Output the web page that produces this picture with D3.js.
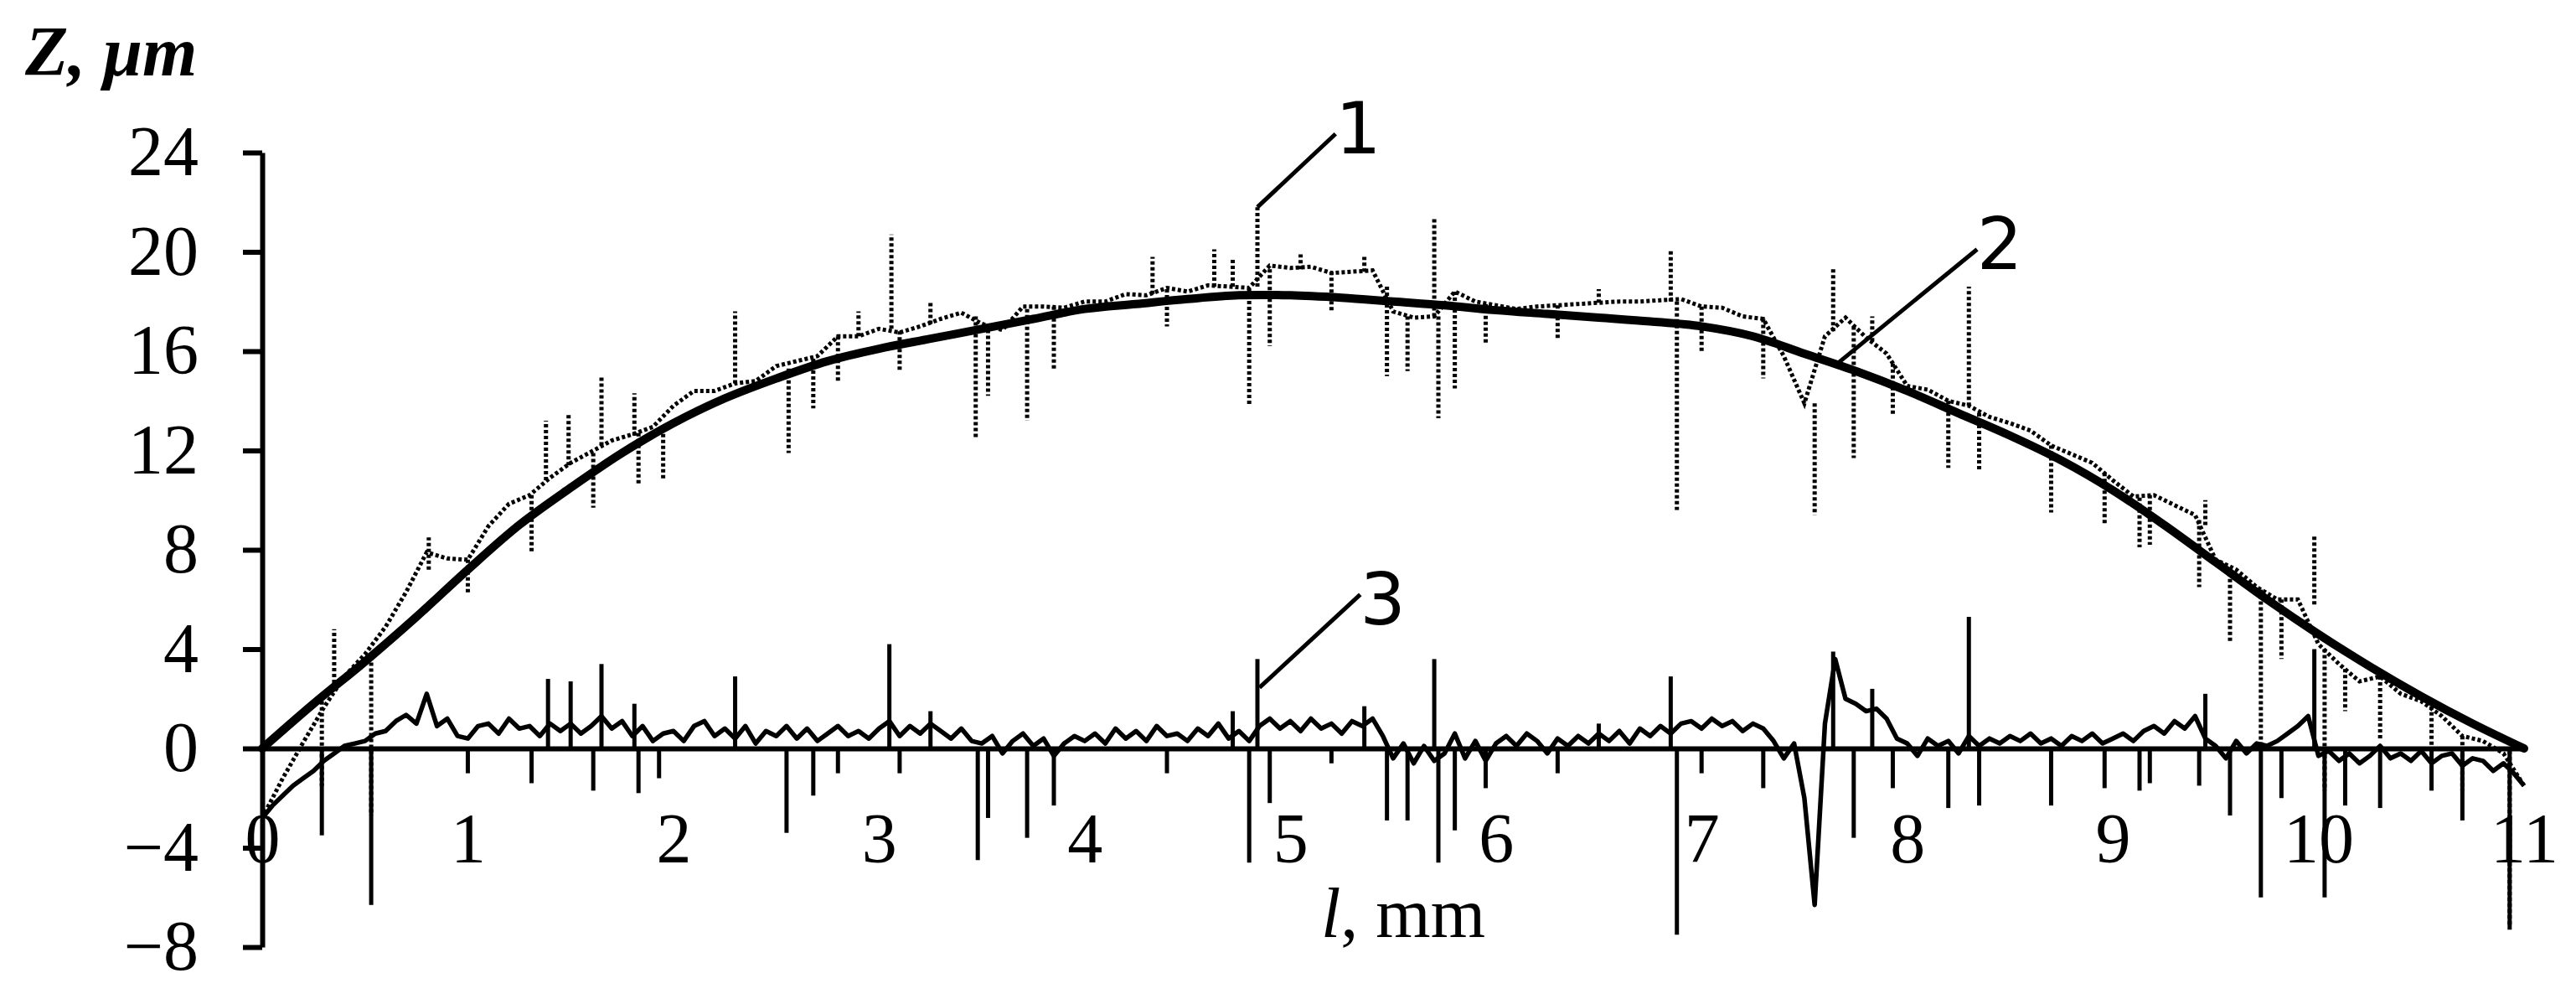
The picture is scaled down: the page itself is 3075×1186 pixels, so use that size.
<!DOCTYPE html>
<html><head><meta charset="utf-8">
<script src="https://cdn.jsdelivr.net/npm/d3@7"></script>
<style>html,body{margin:0;padding:0;background:#fff;} svg{display:block;}</style>
</head><body>
<svg id="chart" width="3075" height="1186"></svg>
<script>
// ---------- DATA ----------
const xTicks = [0,1,2,3,4,5,6,7,8,9,10,11];
const yTicks = [-8,-4,0,4,8,12,16,20,24];

// curve 2: smoothed mean line, sampled every 0.25 mm
const meanStep = 0.25;
const meanZ = [0,1.8,3.5,5.3,7.2,9.0,10.5,11.9,13.1,14.1,14.9,15.6,16.1,16.5,16.9,17.3,17.7,17.9,18.1,18.25,
  18.25,18.15,18.0,17.85,17.65,17.5,17.35,17.2,17.0,16.6,15.9,15.2,14.4,13.5,12.6,11.6,10.4,9.0,7.5,6.0,
  4.6,3.3,2.1,1.0,0];

// curve 1: measured profile (dotted), sampled every 0.1 mm
const profileStep = 0.1;
const profileZ = [
  -2.8,-1.2,0.25,1.65,2.9,3.8,4.9,6.3,7.9,7.65,
  7.6,8.95,9.85,10.2,10.9,11.5,11.95,12.4,12.65,12.95,
  13.8,14.4,14.4,14.7,14.8,15.4,15.6,15.8,16.6,16.6,
  16.9,16.75,17.0,17.3,17.55,17.1,16.85,17.8,17.8,17.75,
  18.0,18.0,18.3,18.25,18.55,18.4,18.65,18.6,18.55,19.45,
  19.35,19.4,19.15,19.2,19.25,17.6,17.35,17.4,18.4,18.0,
  17.85,17.7,17.8,17.85,17.9,17.95,18.0,18.0,18.05,18.1,
  17.8,17.75,17.4,17.3,15.8,13.9,16.6,17.35,16.55,15.9,
  14.6,14.45,14.0,13.8,13.35,13.1,12.8,12.2,11.85,11.5,
  10.8,10.15,10.2,9.8,9.4,7.6,7.2,6.5,6.0,6.0,
  4.2,3.4,2.7,2.9,2.2,1.9,1.3,0.5,0.3,-0.2,
  -1.5];
// narrow spikes of curve 1: [l, from Z, to Z]
const profileSpikes = [[0.29,1.9,-1.5],[0.35,2.4,4.8],[0.53,3.7,-2.7],[0.81,7.2,8.5],[1.0,7.6,6.2],[1.31,10.2,7.9],
  [1.38,10.8,13.2],[1.49,11.4,13.5],[1.61,11.9,9.7],[1.65,12.2,15.0],[1.81,12.6,14.3],[1.83,12.7,10.6],[1.95,12.9,10.8],
  [2.3,14.7,17.6],[2.56,15.3,11.9],[2.68,15.7,13.7],[2.8,16.6,14.8],[2.9,16.6,17.6],[3.06,16.9,20.7],[3.1,16.8,15.2],
  [3.25,17.1,18.0],[3.47,17.4,12.5],[3.53,17.1,14.2],[3.72,17.7,13.2],[3.85,17.8,15.2],[4.33,18.3,19.8],[4.4,18.5,17.0],
  [4.63,18.6,20.1],[4.72,18.6,19.7],[4.8,18.5,13.8],[4.84,18.6,21.8],[4.9,19.3,16.2],[5.05,19.3,19.9],[5.2,19.2,17.6],
  [5.36,19.2,19.8],[5.47,18.6,15.0],[5.57,17.4,15.2],[5.7,17.4,21.4],[5.72,17.4,13.3],[5.8,18.4,14.5],[5.95,17.9,16.3],
  [6.3,17.85,16.5],[6.5,17.95,18.5],[6.85,18.0,20.1],[6.88,18.0,9.6],[7.0,17.8,16.0],[7.3,17.3,14.9],[7.55,13.9,9.4],
  [7.64,16.8,19.4],[7.74,17.0,11.7],[7.83,16.4,17.4],[7.93,15.5,13.4],[8.2,14.0,11.3],[8.3,13.8,18.6],[8.35,13.5,11.2],
  [8.7,12.2,9.5],[8.96,11.1,9.0],[9.13,10.1,8.1],[9.18,10.2,8.2],[9.42,9.2,6.5],[9.45,9.0,10.0],[9.57,7.3,4.3],
  [9.72,6.4,0.2],[9.82,6.0,3.6],[9.98,5.8,8.6],[10.03,4.0,-1.7],[10.13,3.2,1.5],[10.3,2.9,0.4],[10.55,1.7,0.1],
  [10.7,0.5,-1.7],[10.93,-0.1,-7.1]];

// curve 3: residual (profile minus mean), sampled every 0.05 mm
const residualStep = 0.05;
const residualZ = [
  -2.8,-2.3,-1.9,-1.5,-1.2,-0.9,-0.5,-0.2,0.1,0.2,0.3,0.6,0.7,1.1,1.35,1.0,2.2,0.9,1.2,0.5,
  0.4,0.9,1.0,0.6,1.2,0.8,0.9,0.5,1.0,0.7,1.0,0.6,0.9,1.3,0.8,1.1,0.5,0.9,0.3,0.6,
  0.7,0.3,0.9,1.1,0.5,0.8,0.4,0.9,0.2,0.7,0.5,0.9,0.4,0.8,0.3,0.6,0.9,0.5,0.7,0.4,
  0.8,1.1,0.5,0.9,0.6,1.0,0.7,0.4,0.8,0.3,0.2,0.5,-0.2,0.3,0.6,0.1,0.4,-0.3,0.2,0.5,
  0.3,0.6,0.2,0.8,0.4,0.7,0.3,0.9,0.5,0.6,0.3,0.8,0.5,1.0,0.4,0.7,0.3,0.9,1.2,0.8,
  1.1,0.7,1.2,0.8,1.0,0.6,1.1,0.9,1.2,0.5,-0.4,0.2,-0.6,0.1,-0.5,-0.2,0.6,-0.4,0.3,-0.5,
  0.2,0.5,0.1,0.6,0.3,-0.2,0.4,0.1,0.5,0.2,0.6,0.3,0.7,0.2,0.8,0.5,0.9,0.6,1.0,1.1,
  0.8,1.2,0.9,1.1,0.7,1.0,0.8,0.3,-0.4,0.2,-2.0,-6.3,1.0,3.6,2.0,1.8,1.5,1.6,1.2,0.4,
  0.2,-0.3,0.4,0.1,0.3,-0.2,0.5,0.1,0.4,0.2,0.5,0.3,0.6,0.2,0.4,0.1,0.5,0.3,0.6,0.2,
  0.4,0.6,0.3,0.7,0.9,0.6,1.1,0.8,1.3,0.4,0.1,-0.4,0.3,-0.2,0.2,0.1,0.3,0.6,0.9,1.3,
  -0.3,-0.1,-0.5,-0.2,-0.6,-0.3,0.1,-0.4,-0.2,-0.5,-0.1,-0.6,-0.3,-0.2,-0.7,-0.4,-0.5,-0.9,-0.6,-1.0,
  -1.5];
// narrow spikes of curve 3: [l, peak Z]
const residualSpikes = [[0.29,-3.5],[0.53,-6.3],[1.0,-1.0],[1.31,-1.4],[1.39,2.8],[1.5,2.7],[1.61,-1.7],[1.65,3.4],
  [1.81,1.8],[1.83,-1.8],[1.93,-1.2],[2.3,2.9],[2.55,-3.4],[2.68,-1.9],[2.8,-1.0],[3.05,4.2],[3.1,-1.0],[3.25,1.5],
  [3.48,-4.5],[3.53,-2.8],[3.72,-3.6],[3.85,-2.3],[4.4,-1.0],[4.72,1.5],[4.8,-4.6],[4.84,3.6],[4.9,-2.2],[5.2,-0.6],
  [5.36,1.7],[5.47,-2.9],[5.57,-2.9],[5.70,3.6],[5.72,-4.6],[5.80,-3.3],[5.95,-1.6],[6.3,-1.0],[6.5,1.0],[6.85,2.9],
  [6.88,-7.5],[7.0,-1.0],[7.3,-1.6],[7.64,3.9],[7.74,-3.6],[7.83,2.4],[7.93,-1.6],[8.2,-2.4],[8.3,5.3],[8.35,-2.3],
  [8.7,-2.3],[8.96,-1.6],[9.13,-1.7],[9.18,-1.4],[9.42,-1.5],[9.45,2.2],[9.57,-2.7],[9.72,-6.0],[9.82,-2.0],[9.98,4.0],
  [10.03,-6.0],[10.13,-2.3],[10.3,-2.4],[10.55,-1.7],[10.7,-2.9],[10.93,-7.3]];

// curve numbers with leader lines (data coordinates)
const labelText = ["1","2","3"];
const labelAt   = [[5.33,25.0],[8.45,20.35],[5.45,6.05]];
const leaderFrom = [[4.84,21.8],[7.66,15.5],[4.85,2.45]];
const leaderTo   = [[5.22,24.75],[8.34,20.1],[5.34,6.2]];

// ---------- DRAWING ----------
const svg = d3.select("#chart");
svg.append("rect").attr("width",3075).attr("height",1186).attr("fill","#fff");

const x = d3.scaleLinear().domain([0,11]).range([313,3013]);
const y = d3.scaleLinear().domain([-8,24]).range([1130,182]);
const serif = "'Liberation Serif','Times New Roman',serif";

// axes
const yAxis = d3.axisLeft(y).tickValues(yTicks).tickSize(23).tickSizeOuter(0).tickPadding(53)
  .tickFormat(d => d < 0 ? "\u2212" + Math.abs(d) : String(d));
const gy = svg.append("g").attr("transform", `translate(${x(0)},0)`).call(yAxis);
gy.select(".domain").attr("stroke","#000").attr("stroke-width",6);
gy.selectAll(".tick line").attr("stroke","#000").attr("stroke-width",6);
gy.selectAll(".tick text").attr("font-family",serif).attr("font-size",84).attr("fill","#000");

const xAxis = d3.axisBottom(x).tickValues(xTicks).tickSize(0).tickSizeOuter(0).tickPadding(76);
const gx = svg.append("g").attr("transform", `translate(0,${y(0)})`).call(xAxis);
gx.select(".domain").attr("stroke","#000").attr("stroke-width",6);
gx.selectAll(".tick text").attr("font-family",serif).attr("font-size",84).attr("fill","#000");

// curve 3 residual
const resPts = residualZ.map((z,i) => [i*residualStep, z]);
const line = d3.line().x(d => x(d[0])).y(d => y(d[1]));
svg.append("path").datum(resPts).attr("d", line).attr("fill","none")
  .attr("stroke","#000").attr("stroke-width",5.5).attr("stroke-linejoin","round");
svg.append("g").selectAll("line").data(residualSpikes).join("line")
  .attr("x1", d => x(d[0])).attr("x2", d => x(d[0]))
  .attr("y1", y(0)).attr("y2", d => y(d[1]))
  .attr("stroke","#000").attr("stroke-width",5);

// curve 1 profile (dotted)
const profPts = profileZ.map((z,i) => [i*profileStep, z]);
svg.append("path").datum(profPts).attr("d", line).attr("fill","none")
  .attr("stroke","#000").attr("stroke-width",5).attr("stroke-dasharray","4,3");
svg.append("g").selectAll("line").data(profileSpikes).join("line")
  .attr("x1", d => x(d[0])).attr("x2", d => x(d[0]))
  .attr("y1", d => y(d[1])).attr("y2", d => y(d[2]))
  .attr("stroke","#000").attr("stroke-width",5).attr("stroke-dasharray","4,3");

// curve 2 mean (thick)
const meanPts = meanZ.map((z,i) => [i*meanStep, z]);
svg.append("path").datum(meanPts)
  .attr("d", d3.line().x(d => x(d[0])).y(d => y(d[1])).curve(d3.curveCatmullRom))
  .attr("fill","none").attr("stroke","#000").attr("stroke-width",10).attr("stroke-linecap","round");

// leader lines and curve numbers
svg.append("g").selectAll("line").data(leaderFrom).join("line")
  .attr("x1", d => x(d[0])).attr("y1", d => y(d[1]))
  .attr("x2", (d,i) => x(leaderTo[i][0])).attr("y2", (d,i) => y(leaderTo[i][1]))
  .attr("stroke","#000").attr("stroke-width",5);
svg.append("g").selectAll("text").data(labelText).join("text")
  .attr("x", (d,i) => x(labelAt[i][0])).attr("y", (d,i) => y(labelAt[i][1]))
  .attr("dy","0.36em").attr("text-anchor","middle")
  .attr("font-family","'DejaVu Sans',sans-serif").attr("font-size",86).attr("fill","#000")
  .text(d => d);

// axis titles
svg.append("text").attr("x",30).attr("y",90)
  .attr("font-family",serif).attr("font-size",84).attr("font-weight","bold").attr("font-style","italic")
  .attr("fill","#000").text("Z, \u03bcm");
const lt = svg.append("text").attr("x",1577).attr("y",1118)
  .attr("font-family",serif).attr("font-size",84).attr("fill","#000");
lt.append("tspan").attr("font-style","italic").text("l");
lt.append("tspan").text(", mm");
</script>
</body></html>
